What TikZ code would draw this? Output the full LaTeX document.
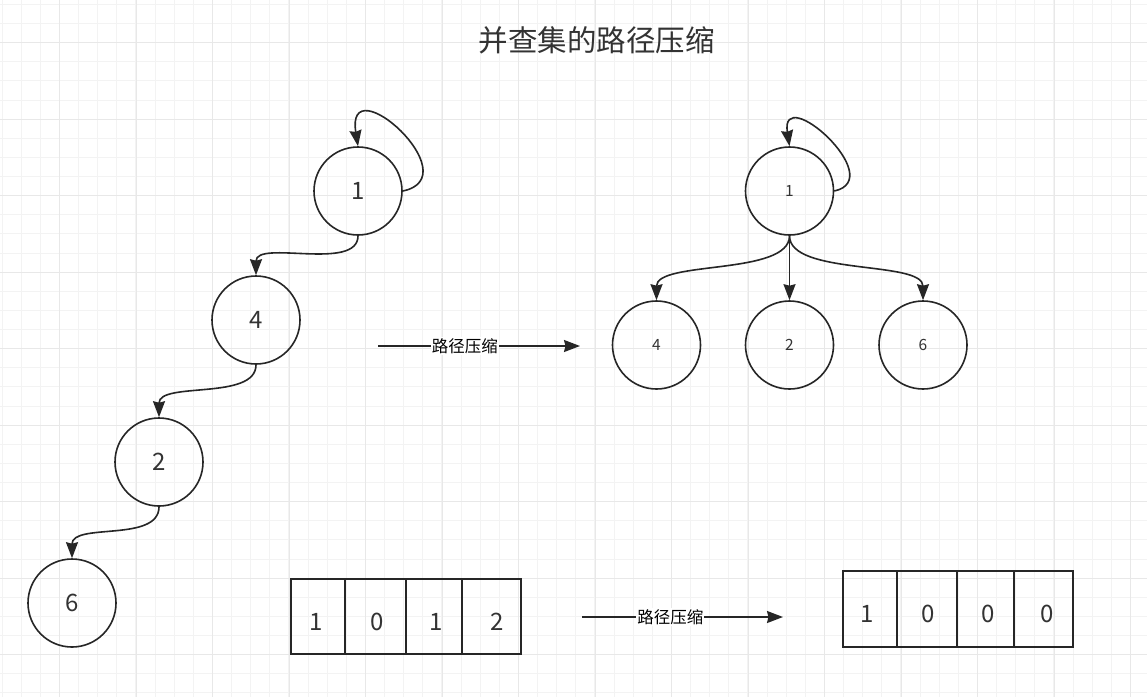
\documentclass[tikz,border=0pt]{standalone}
\usepackage{fontspec}
\setmainfont{Noto Sans CJK SC}
\usepackage{xcolor}
\usepackage{tikz}
\usetikzlibrary{arrows.meta}

\definecolor{gridlight}{HTML}{F3F3F3}
\definecolor{griddark}{HTML}{E8E8E8}
\definecolor{ink}{HTML}{262626}
\definecolor{txt}{HTML}{333333}

\begin{document}
\begin{tikzpicture}[x=1pt,y=-1pt,
  vertex/.style={circle,draw=ink,line width=1.6pt,minimum size=88pt,inner sep=0pt,text=txt,font=\fontsize{24}{24}\selectfont},
  small/.style={font=\fontsize{15.5}{16}\selectfont},
  edge/.style={draw=ink,line width=1.6pt,-{Stealth[length=16pt,width=12pt,inset=1.5pt]}},
  lbl/.style={fill=white,inner sep=1pt,text=black,font=\fontsize{16.5}{17}\selectfont},
  cell/.style={draw=ink,line width=1.6pt},
  digit/.style={text=txt,font=\fontsize{24}{24}\selectfont}]

\useasboundingbox (0,0) rectangle (1147,697);
\fill [white] (0,0) rectangle (1147,697);
\foreach \i in {0,...,60} \draw [gridlight,line width=1pt] ({2.1+19.125*\i},0) -- ({2.1+19.125*\i},697);
\foreach \j in {0,...,36} \draw [gridlight,line width=1pt] (0,{4.45+19.125*\j}) -- (1147,{4.45+19.125*\j});
\foreach \i in {0,...,14} \draw [griddark,line width=1pt] ({59.5+76.5*\i},0) -- ({59.5+76.5*\i},697);
\foreach \j in {0,...,8} \draw [griddark,line width=1pt] (0,{42.7+76.5*\j}) -- (1147,{42.7+76.5*\j});

\node [text=txt,font=\fontsize{29.5}{30}\selectfont] (title) at (596.5,40) {并查集的路径压缩};

\node [vertex] (a1) at (358,191) {1};
\node [vertex] (a4) at (256,320) {4};
\node [vertex] (a2) at (159,462) {2};
\node [vertex] (a6) at (72,603) {6};
\draw [edge] (a1.east) .. controls +(68,-14) and +(-13,-82) .. (a1.north);
\draw [edge] (a1.south) .. controls +(0,36) and +(0,-36) .. (a4.north);
\draw [edge] (a4.south) .. controls +(0,36) and +(0,-36) .. (a2.north);
\draw [edge] (a2.south) .. controls +(0,36) and +(0,-36) .. (a6.north);

\node [vertex,small] (b1) at (789.5,191) {1};
\node [vertex,small] (b4) at (656.5,345) {4};
\node [vertex,small] (b2) at (789.5,345) {2};
\node [vertex,small] (b6) at (923,345) {6};
\draw [edge] (b1.east) .. controls +(55,-12) and +(-10,-65) .. (b1.north);
\draw [edge] (b1.south) .. controls +(0,40) and +(0,-40) .. (b4.north);
\draw [edge] (b1.south) -- (b2.north);
\draw [edge] (b1.south) .. controls +(0,40) and +(0,-40) .. (b6.north);

\coordinate (p1) at (378,346);
\coordinate (p2) at (580,346);
\draw [edge] (p1) -- node [lbl,pos=0.43] (t1) {路径压缩} (p2);
\coordinate (q1) at (582,617);
\coordinate (q2) at (783,617);
\draw [edge] (q1) -- node [lbl,pos=0.44] (t2) {路径压缩} (q2);

\draw [cell] (291,579) rectangle (521,654);
\foreach \x in {345,406,462} \draw [cell] (\x,579) -- (\x,654);
\node [digit] (l1) at (316,621.5) {1};
\node [digit] (l2) at (377,621.5) {0};
\node [digit] (l3) at (436,621.5) {1};
\node [digit] (l4) at (497,621.5) {2};

\draw [cell] (843,571) rectangle (1073,647);
\foreach \x in {897,957,1014} \draw [cell] (\x,571) -- (\x,647);
\node [digit] (r1) at (867,614) {1};
\node [digit] (r2) at (928,614) {0};
\node [digit] (r3) at (988,614) {0};
\node [digit] (r4) at (1047,614) {0};
\end{tikzpicture}
\end{document}
